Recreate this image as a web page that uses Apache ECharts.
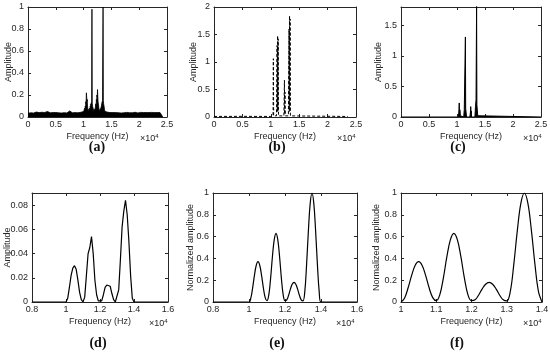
<!DOCTYPE html>
<html><head><meta charset="utf-8">
<script src="https://cdn.jsdelivr.net/npm/echarts@6/dist/echarts.min.js"></script>
<style>html,body{margin:0;padding:0;background:#fff}#c{width:550px;height:352px}</style>
</head><body><div id="c"></div>
<script>
// ---------- DATA ----------
// (a) noisy spectrum: floor 0..9750 step 250, band 10000..14000 step 50, floor 14250..24250 step 250
const aFloorLeft = [0.035,0.04,0.038,0.042,0.036,0.04,0.045,0.038,0.04,0.037,0.043,0.039,0.041,0.036,0.05,0.04,0.038,0.042,0.04,0.037,0.041,0.044,0.038,0.04,0.036,0.042,0.039,0.041,0.037,0.04,0.055,0.04,0.038,0.042,0.04,0.045,0.038,0.041,0.043,0.045];
const aBand = [0.05,0.04,0.06,0.05,0.08,0.06,0.10,0.08,0.14,0.12,0.22,0.18,0.14,0.16,0.10,0.08,0.06,0.05,0.07,0.05,
  0.06,0.05,0.08,0.06,0.10,0.08,0.12,0.10,0.13,0.11,0.98,0.12,0.10,0.11,0.08,0.07,0.06,0.05,0.07,0.05,
  0.06,0.05,0.08,0.07,0.12,0.10,0.16,0.14,0.20,0.18,0.25,0.19,0.14,0.15,0.10,0.08,0.06,0.05,0.07,0.05,
  0.06,0.05,0.08,0.07,0.10,0.09,0.13,0.12,0.15,0.14,1.00,0.15,0.12,0.13,0.09,0.07,0.06,0.05,0.06,0.04,0.05];
const aFloorRight = [0.045,0.042,0.04,0.038,0.041,0.037,0.04,0.043,0.039,0.04,0.036,0.041,0.038,0.04,0.042,0.037,0.039,0.041,0.038,0.04,0.043,0.039,0.037,0.04,0.042,0.038,0.04,0.036,0.041,0.039,0.04,0.038,0.042,0.037,0.04,0.039,0.041,0.038,0.04,0.036,0];

// (b) dashed spectrum
const bFreq = [0,5000,10000,10400,10450,10500,11000,11100,11150,11200,11250,11300,11350,12300,12400,12450,12500,12550,13100,13200,13250,13300,13350,13400,13450,13600,23500,23600];
const bAmp  = [0.01,0.012,0.01,0.02,1.06,0.02,0.02,1.30,0.10,1.48,0.10,1.42,0.02,0.02,0.67,0.05,0.45,0.02,0.02,1.60,0.10,1.84,0.10,1.78,0.02,0.01,0.01,0];

// (c) clean spectrum
const cFreq = [0,10200,10300,10350,10400,10450,10500,10550,10600,10700,11200,11300,11400,11500,11550,11600,11700,12300,12400,12450,12500,12550,12600,13200,13300,13350,13400,13500,13550,13600,13700,13800,25000];
const cAmp  = [0,0,0.05,0.12,0.23,0.02,0.12,0.08,0.02,0,0,0.12,0.15,1.31,0.14,0.12,0,0,0.08,0.17,0.05,0.10,0,0,0.17,0.18,0.28,1.85,0.20,0.19,0.02,0,0];

// (d) band amplitude, 10000..14000 step 100 (zero outside)
const dAmp = [0,0.003,0.012,0.022,0.028,0.030,0.027,0.018,0.008,0.002,
  0,0.004,0.022,0.040,0.045,0.054,0.040,0.018,0.006,0.001,
  0,0.001,0.006,0.012,0.014,0.015,0.013,0.007,0.002,0,
  0,0.010,0.035,0.062,0.075,0.084,0.072,0.050,0.022,0.003,0];

// (e),(f) normalized amplitude, 10000..14000 step 100
const nAmp = [0,0.035,0.128,0.242,0.335,0.37,0.335,0.242,0.128,0.04,
  0.012,0.065,0.217,0.413,0.57,0.63,0.57,0.413,0.217,0.065,
  0.012,0.02,0.062,0.118,0.163,0.18,0.163,0.118,0.062,0.02,
  0.01,0.095,0.345,0.655,0.905,1.0,0.905,0.655,0.345,0.095,0];

const panelLabels = ['(a)','(b)','(c)','(d)','(e)','(f)'];
const yNames = ['Amplitude','Amplitude','Amplitude','Amplitude','Normalized amplitude','Normalized amplitude'];
const xName = 'Frequency (Hz)';

// ---------- BUILD ----------
function freqGrid(start, step, n){ const r=[]; for(let i=0;i<n;i++) r.push(start+i*step); return r; }
function pairs(xs, ys){ return xs.map((x,i)=>[x, ys[i]]); }

const aFreq = freqGrid(0,250,aFloorLeft.length).concat(freqGrid(10000,50,aBand.length), freqGrid(14250,250,aFloorRight.length));
const aAmp = aFloorLeft.concat(aBand, aFloorRight);
const bandFreq = freqGrid(10000,100,41);
const dFreq = [8000].concat(bandFreq,[16000]);
const dVals = [0].concat(dAmp,[0]);
const eFreq = dFreq;
const eVals = [0].concat(nAmp,[0]);

const FONT = 'Liberation Sans, Arial, Helvetica, sans-serif';
const AX = '#262626';
const FS = 9;
const panels = [
  {g:{left:28,top:7,width:139,height:110}, x:[0,25000,5000], y:[0,1,0.2], gap:15, sci:[140,133], lab:[97,147]},
  {g:{left:214,top:7,width:142,height:110}, x:[0,25000,5000], y:[0,2,0.5], gap:16, sci:[337,133], lab:[277,147]},
  {g:{left:401,top:7,width:140,height:110}, x:[0,25000,5000], y:[0,1.8,0.5], gap:18, sci:[523,133], lab:[458,147], hideMax:true},
  {g:{left:32,top:193,width:136,height:109}, x:[8000,16000,2000], y:[0,0.09,0.02], gap:20, sci:[149,318], lab:[98,343], hideMax:true},
  {g:{left:213,top:193,width:144,height:109}, x:[8000,16000,2000], y:[0,1,0.2], gap:18, sci:[336,318], lab:[277,343]},
  {g:{left:401,top:193,width:141,height:109}, x:[10000,14000,1000], y:[0,1,0.2], gap:20, sci:[523,318], lab:[457,343]}
];

const grids=[], xAxes=[], yAxes=[], series=[], graphics=[];
const xFmt = v => String(+(v/1e4).toFixed(3));
panels.forEach((p,i)=>{
  grids.push(Object.assign({containLabel:false, outerBoundsMode:'none'}, p.g));
  const line = {show:true, onZero:false, lineStyle:{color:AX, width:1}};
  const tick = {show:true, inside:true, length:3, lineStyle:{color:AX, width:1}};
  xAxes.push({type:'value', gridIndex:i, min:p.x[0], max:p.x[1], interval:p.x[2], position:'bottom',
    axisLine:line, axisTick:tick, splitLine:{show:false},
    axisLabel:{formatter:xFmt, color:AX, fontFamily:FONT, fontSize:FS, margin:3},
    name:xName, nameLocation:'middle', nameGap:15, nameMoveOverlap:false, nameTextStyle:{color:AX, fontFamily:FONT, fontSize:FS}});
  xAxes.push({type:'value', gridIndex:i, min:p.x[0], max:p.x[1], interval:p.x[2], position:'top',
    axisLine:line, axisTick:tick, axisLabel:{show:false}, splitLine:{show:false}});
  yAxes.push({type:'value', gridIndex:i, min:p.y[0], max:p.y[1], interval:p.y[2], position:'left',
    axisLine:line, axisTick:tick, splitLine:{show:false},
    axisLabel:{color:AX, fontFamily:FONT, fontSize:FS, margin:4, showMaxLabel: p.hideMax ? false : null},
    name:yNames[i], nameLocation:'middle', nameGap:p.gap, nameMoveOverlap:false, nameTextStyle:{color:AX, fontFamily:FONT, fontSize:FS}});
  yAxes.push({type:'value', gridIndex:i, min:p.y[0], max:p.y[1], interval:p.y[2], position:'right',
    axisLine:line, axisTick:tick, axisLabel:{show:false}, splitLine:{show:false}});
  graphics.push({type:'text', left:p.sci[0], top:p.sci[1],
    style:{text:'{b|×10}{s|4}', rich:{b:{fontSize:FS, fontFamily:FONT, fill:AX}, s:{fontSize:6, fontFamily:FONT, fill:AX, padding:[0,0,6,0]}}}});
  graphics.push({type:'text', x:p.lab[0], y:p.lab[1],
    style:{text:panelLabels[i], font:'bold 14px "Liberation Serif", "Times New Roman", serif', fill:'#111', textAlign:'center', textVerticalAlign:'middle'}});
});

const base = {type:'line', showSymbol:false, symbol:'none', animation:false};
series.push(Object.assign({}, base, {xAxisIndex:0, yAxisIndex:0, data:pairs(aFreq,aAmp), lineStyle:{color:'#000',width:0.8}, areaStyle:{color:'#000', opacity:1}}));
series.push(Object.assign({}, base, {xAxisIndex:2, yAxisIndex:2, data:pairs(bFreq,bAmp), lineStyle:{color:'#000',width:1, type:[3,2]}}));
series.push(Object.assign({}, base, {xAxisIndex:4, yAxisIndex:4, data:pairs(cFreq,cAmp), lineStyle:{color:'#000',width:1}, areaStyle:{color:'#000', opacity:1}}));
series.push(Object.assign({}, base, {xAxisIndex:6, yAxisIndex:6, data:pairs(dFreq,dVals), lineStyle:{color:'#000',width:1.2}}));
series.push(Object.assign({}, base, {xAxisIndex:8, yAxisIndex:8, data:pairs(eFreq,eVals), smooth:0.4, lineStyle:{color:'#000',width:1.2}}));
series.push(Object.assign({}, base, {xAxisIndex:10, yAxisIndex:10, data:pairs(bandFreq,nAmp), smooth:0.4, lineStyle:{color:'#000',width:1.2}}));

const chart = echarts.init(document.getElementById('c'), null, {renderer:'canvas'});
chart.setOption({animation:false, backgroundColor:'#fff', grid:grids, xAxis:xAxes, yAxis:yAxes, series:series, graphic:graphics});
</script></body></html>
